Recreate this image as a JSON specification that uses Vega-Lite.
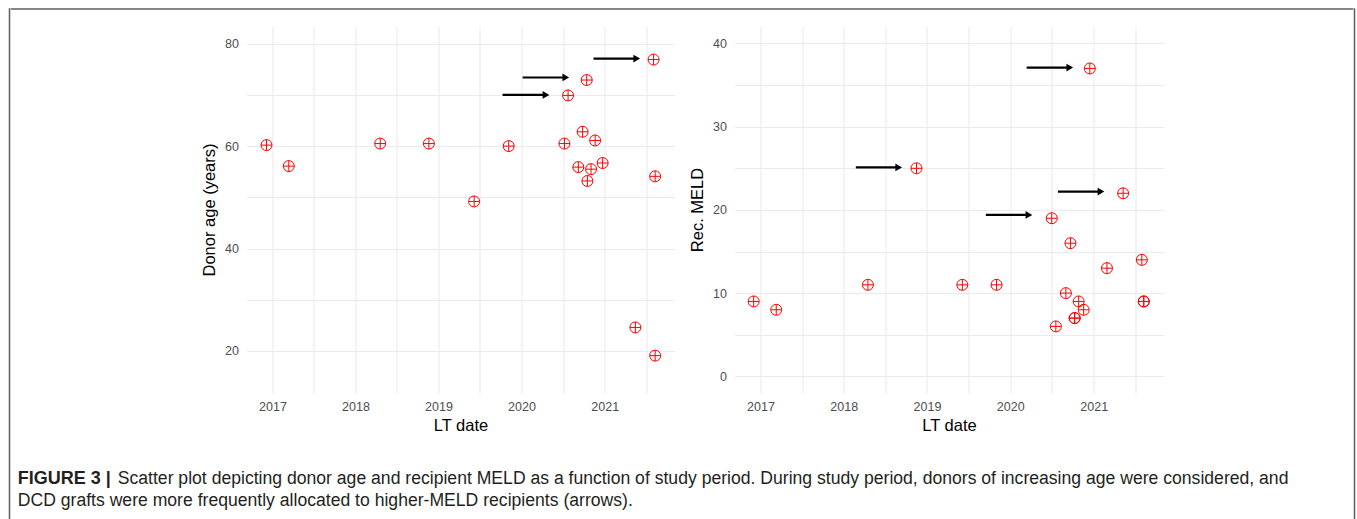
{
  "$schema": "https://vega.github.io/schema/vega-lite/v6.json",
  "background": "white",
  "padding": {"left": 8.5, "top": 8, "right": 0, "bottom": 0},
  "spacing": 0,
  "datasets": {
    "donor": [
      {"date": "2016-12-06", "age": 60.2},
      {"date": "2017-03-14", "age": 56.1},
      {"date": "2018-04-20", "age": 60.5},
      {"date": "2018-11-20", "age": 60.5},
      {"date": "2019-06-07", "age": 49.2},
      {"date": "2019-11-06", "age": 60.0},
      {"date": "2020-07-08", "age": 60.5},
      {"date": "2020-07-24", "age": 69.9},
      {"date": "2020-09-07", "age": 55.9},
      {"date": "2020-09-26", "age": 62.8},
      {"date": "2020-10-14", "age": 72.9},
      {"date": "2020-10-17", "age": 53.2},
      {"date": "2020-11-02", "age": 55.5},
      {"date": "2020-11-20", "age": 61.1},
      {"date": "2020-12-23", "age": 56.7},
      {"date": "2021-05-16", "age": 24.6},
      {"date": "2021-08-04", "age": 76.9},
      {"date": "2021-08-11", "age": 54.1},
      {"date": "2021-08-11", "age": 19.1}
    ],
    "meld": [
      {"date": "2016-12-02", "meld": 9},
      {"date": "2017-03-11", "meld": 8},
      {"date": "2018-04-17", "meld": 11},
      {"date": "2018-11-16", "meld": 25},
      {"date": "2019-06-05", "meld": 11},
      {"date": "2019-11-02", "meld": 11},
      {"date": "2020-07-01", "meld": 19},
      {"date": "2020-07-19", "meld": 6},
      {"date": "2020-09-01", "meld": 10},
      {"date": "2020-09-21", "meld": 16},
      {"date": "2020-10-09", "meld": 7},
      {"date": "2020-10-10", "meld": 7},
      {"date": "2020-10-27", "meld": 9},
      {"date": "2020-11-18", "meld": 8},
      {"date": "2020-12-15", "meld": 37},
      {"date": "2021-02-28", "meld": 13},
      {"date": "2021-05-10", "meld": 22},
      {"date": "2021-07-31", "meld": 14},
      {"date": "2021-08-08", "meld": 9},
      {"date": "2021-08-09", "meld": 9}
    ],
    "arrows1": [
      {"start": "2020-11-13", "end": "2021-05-22", "y": 77.1},
      {"start": "2020-01-06", "end": "2020-07-14", "y": 73.4},
      {"start": "2019-10-10", "end": "2020-04-18", "y": 70.0}
    ],
    "arrows2": [
      {"start": "2020-03-13", "end": "2020-09-18", "y": 37.1},
      {"start": "2018-02-23", "end": "2018-08-30", "y": 25.1},
      {"start": "2020-07-28", "end": "2021-02-02", "y": 22.2},
      {"start": "2019-09-16", "end": "2020-03-23", "y": 19.4}
    ],
    "caption": [
      {"line": 1, "seg": "b", "txt": "FIGURE 3 |"},
      {"line": 1, "seg": "r1", "txt": "Scatter plot depicting donor age and recipient MELD as a function of study period. During study period, donors of increasing age were considered, and"},
      {"line": 2, "seg": "r2", "txt": "DCD grafts were more frequently allocated to higher-MELD recipients (arrows)."}
    ]
  },
  "config": {
    "view": {"stroke": null},
    "axis": {
      "domain": false,
      "ticks": false,
      "grid": true,
      "gridColor": "#ebebeb",
      "gridWidth": 1.1,
      "labelColor": "#4d4d4d",
      "labelFont": "Liberation Sans",
      "labelFontSize": 12.5,
      "titleFont": "Liberation Sans",
      "titleFontSize": 16.5,
      "titleFontWeight": "normal",
      "titleColor": "#000000"
    },
    "axisX": {"labelPadding": 7, "titlePadding": 5},
    "axisY": {"labelPadding": 8, "titlePadding": 7}
  },
  "hconcat": [
    {
      "width": 0.01,
      "height": 520,
      "view": {"stroke": "#5e5e5e", "strokeWidth": 1.5, "fill": null},
      "data": {"values": []},
      "mark": "point",
      "encoding": {}
    },
    {
      "spacing": 0,
      "vconcat": [
        {
          "width": 1341,
          "height": 0.01,
          "view": {"stroke": "#5e5e5e", "strokeWidth": 1.5, "fill": null},
          "data": {"values": []},
          "mark": "point",
          "encoding": {}
        },
        {
          "width": 10,
          "height": 15.5,
          "data": {"values": []},
          "mark": "point",
          "encoding": {}
        },
        {
          "bounds": "flush",
          "spacing": 60,
          "hconcat": [
            {
              "width": 175,
              "height": 442,
              "data": {"values": []},
              "mark": "point",
              "encoding": {}
            },
            {
              "width": 428,
              "height": 367,
              "layer": [
                {
                  "data": {"name": "arrows1"},
                  "mark": {"type": "rule", "color": "#000000", "strokeWidth": 2.2},
                  "encoding": {
                    "x": {"field": "start", "type": "temporal", "title": "LT date",
                      "scale": {"type": "utc", "nice": false, "domain": [{"year": 2016, "month": 9, "date": 9, "utc": true}, {"year": 2021, "month": 11, "date": 4, "utc": true}]},
                      "axis": {"values": [
                        {"year": 2017, "month": 1, "date": 1, "utc": true}, {"year": 2017, "month": 7, "date": 2, "utc": true},
                        {"year": 2018, "month": 1, "date": 1, "utc": true}, {"year": 2018, "month": 7, "date": 2, "utc": true},
                        {"year": 2019, "month": 1, "date": 1, "utc": true}, {"year": 2019, "month": 7, "date": 2, "utc": true},
                        {"year": 2020, "month": 1, "date": 1, "utc": true}, {"year": 2020, "month": 7, "date": 2, "utc": true},
                        {"year": 2021, "month": 1, "date": 1, "utc": true}, {"year": 2021, "month": 7, "date": 2, "utc": true}
                      ], "labelExpr": "utcmonth(datum.value) == 0 ? utcFormat(datum.value, '%Y') : ''"}},
                    "x2": {"field": "end"},
                    "y": {"field": "y", "type": "quantitative", "title": "Donor age (years)",
                      "scale": {"domain": [11.8, 83.45], "nice": false, "zero": false},
                      "axis": {"values": [20, 30, 40, 50, 60, 70, 80], "labelExpr": "datum.value % 20 == 0 ? datum.label : ''"}}
                  }
                },
                {
                  "data": {"name": "arrows1"},
                  "mark": {"type": "point", "shape": "triangle-right", "filled": true, "color": "#000000", "size": 60, "opacity": 1},
                  "encoding": {
                    "x": {"field": "end", "type": "temporal", "title": "LT date"},
                    "y": {"field": "y", "type": "quantitative", "title": "Donor age (years)"}
                  }
                },
                {
                  "data": {"name": "donor"},
                  "mark": {"type": "point", "shape": "M-1,0A1,1 0 1,1 1,0A1,1 0 1,1 -1,0ZM-1,0L1,0M0,-1L0,1", "filled": false, "color": "#ff0000", "size": 121, "strokeWidth": 1, "opacity": 1},
                  "encoding": {
                    "x": {"field": "date", "type": "temporal", "title": "LT date"},
                    "y": {"field": "age", "type": "quantitative", "title": "Donor age (years)"}
                  }
                }
              ]
            },
            {
              "width": 429,
              "height": 367,
              "layer": [
                {
                  "data": {"name": "arrows2"},
                  "mark": {"type": "rule", "color": "#000000", "strokeWidth": 2.2},
                  "encoding": {
                    "x": {"field": "start", "type": "temporal", "title": "LT date",
                      "scale": {"type": "utc", "nice": false, "domain": [{"year": 2016, "month": 9, "date": 9, "utc": true}, {"year": 2021, "month": 11, "date": 3, "utc": true}]},
                      "axis": {"values": [
                        {"year": 2017, "month": 1, "date": 1, "utc": true}, {"year": 2017, "month": 7, "date": 2, "utc": true},
                        {"year": 2018, "month": 1, "date": 1, "utc": true}, {"year": 2018, "month": 7, "date": 2, "utc": true},
                        {"year": 2019, "month": 1, "date": 1, "utc": true}, {"year": 2019, "month": 7, "date": 2, "utc": true},
                        {"year": 2020, "month": 1, "date": 1, "utc": true}, {"year": 2020, "month": 7, "date": 2, "utc": true},
                        {"year": 2021, "month": 1, "date": 1, "utc": true}, {"year": 2021, "month": 7, "date": 2, "utc": true}
                      ], "labelExpr": "utcmonth(datum.value) == 0 ? utcFormat(datum.value, '%Y') : ''"}},
                    "x2": {"field": "end"},
                    "y": {"field": "y", "type": "quantitative", "title": "Rec. MELD",
                      "scale": {"domain": [-2.0, 42.1], "nice": false, "zero": false},
                      "axis": {"values": [0, 5, 10, 15, 20, 25, 30, 35, 40], "labelExpr": "datum.value % 10 == 0 ? datum.label : ''"}}
                  }
                },
                {
                  "data": {"name": "arrows2"},
                  "mark": {"type": "point", "shape": "triangle-right", "filled": true, "color": "#000000", "size": 60, "opacity": 1},
                  "encoding": {
                    "x": {"field": "end", "type": "temporal", "title": "LT date"},
                    "y": {"field": "y", "type": "quantitative", "title": "Rec. MELD"}
                  }
                },
                {
                  "data": {"name": "meld"},
                  "mark": {"type": "point", "shape": "M-1,0A1,1 0 1,1 1,0A1,1 0 1,1 -1,0ZM-1,0L1,0M0,-1L0,1", "filled": false, "color": "#ff0000", "size": 121, "strokeWidth": 1, "opacity": 1},
                  "encoding": {
                    "x": {"field": "date", "type": "temporal", "title": "LT date"},
                    "y": {"field": "meld", "type": "quantitative", "title": "Rec. MELD"}
                  }
                }
              ]
            }
          ]
        },
        {
          "width": 12.5,
          "height": 44,
          "data": {"name": "caption"},
          "layer": [
            {
              "transform": [{"filter": "datum.seg == 'b'"}],
              "mark": {"type": "text", "align": "left", "baseline": "middle", "font": "Liberation Sans", "fontSize": 18, "fontWeight": "bold", "color": "#231f20"},
              "encoding": {
                "y": {"field": "line", "type": "ordinal", "axis": null},
                "text": {"field": "txt"}
              }
            },
            {
              "transform": [{"filter": "datum.seg == 'r1'"}],
              "mark": {"type": "text", "align": "left", "baseline": "middle", "dx": 100, "font": "Liberation Sans", "fontSize": 17.6, "color": "#231f20"},
              "encoding": {
                "y": {"field": "line", "type": "ordinal", "axis": null},
                "text": {"field": "txt"}
              }
            },
            {
              "transform": [{"filter": "datum.seg == 'r2'"}],
              "mark": {"type": "text", "align": "left", "baseline": "middle", "font": "Liberation Sans", "fontSize": 17.6, "color": "#231f20"},
              "encoding": {
                "y": {"field": "line", "type": "ordinal", "axis": null},
                "text": {"field": "txt"}
              }
            }
          ]
        }
      ]
    },
    {
      "width": 0.01,
      "height": 520,
      "view": {"stroke": "#5e5e5e", "strokeWidth": 1.5, "fill": null},
      "data": {"values": []},
      "mark": "point",
      "encoding": {}
    }
  ]
}
